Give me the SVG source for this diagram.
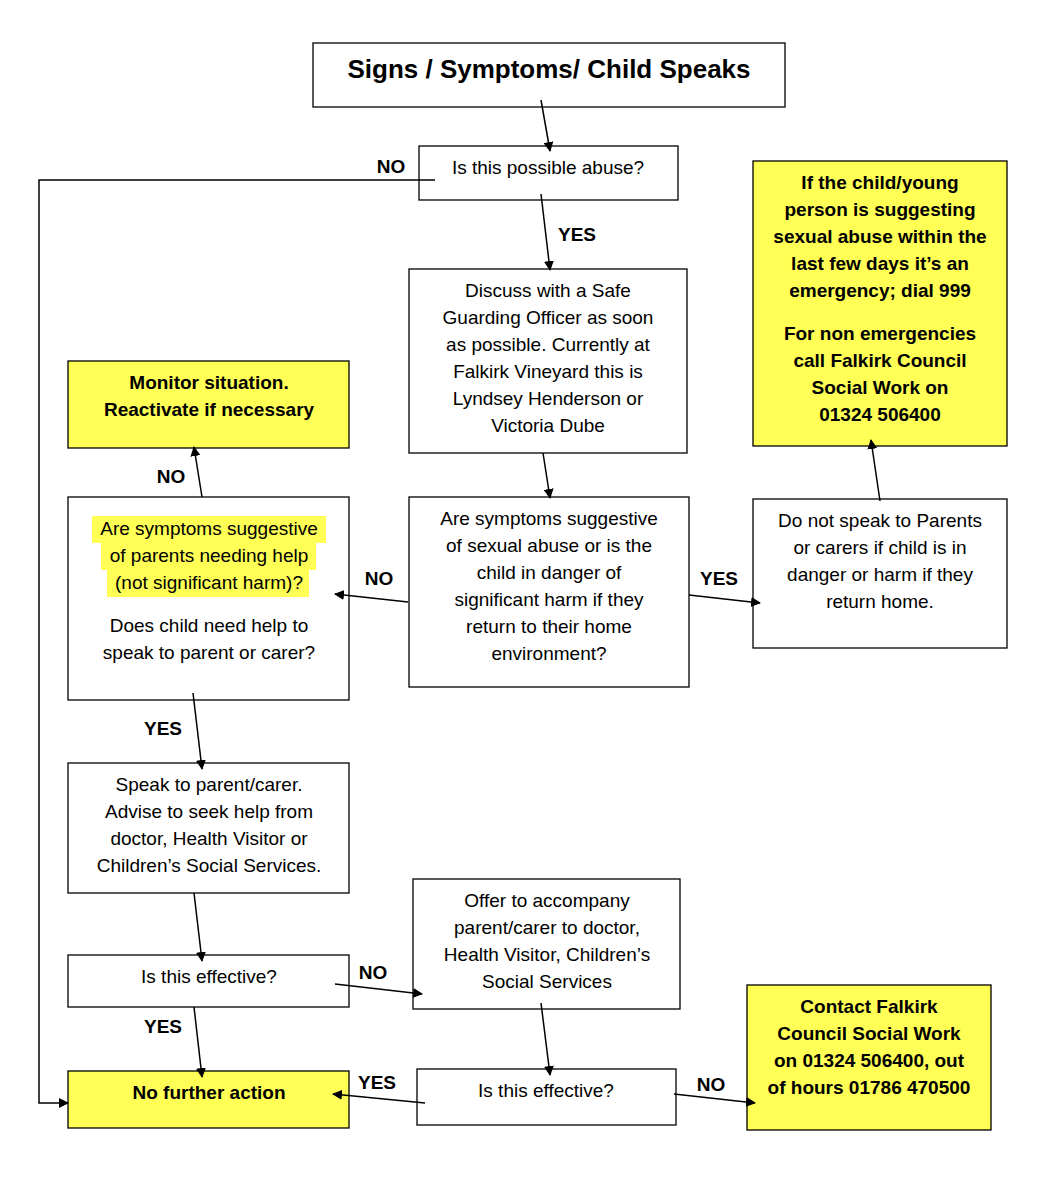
<svg xmlns="http://www.w3.org/2000/svg" width="1052" height="1178" viewBox="0 0 1052 1178">
<style>
.b{fill:#fff;stroke:#000;stroke-width:1.3}
.y{fill:#ffff55;stroke:#000;stroke-width:1.3}
text{font-family:"Liberation Sans",Arial,sans-serif;font-size:19px;text-anchor:middle;fill:#000}
.bd{font-weight:bold}
.c line,.c polyline{stroke:#000;stroke-width:1.5;fill:none;marker-end:url(#a)}
.l{font-weight:bold;font-size:19px}
</style>
<defs><marker id="a" markerWidth="10" markerHeight="10" refX="9" refY="5" orient="auto" markerUnits="userSpaceOnUse"><path d="M0,0 L10,5 L0,10z" fill="#000"/></marker></defs>
<rect width="1052" height="1178" fill="#fff"/>
<g id="title"><rect class="b" x="313" y="43" width="472" height="64"/><text x="549" y="78" class="bd" style="font-size:26px">Signs / Symptoms/ Child Speaks</text></g>
<g id="abuse"><rect class="b" x="419" y="146" width="259" height="54"/><text x="548" y="174">Is this possible abuse?</text></g>
<g id="discuss"><rect class="b" x="409" y="269" width="278" height="184"/>
<text x="548" y="297">Discuss with a Safe</text><text x="548" y="324">Guarding Officer as soon</text><text x="548" y="351">as possible. Currently at</text><text x="548" y="378">Falkirk Vineyard this is</text><text x="548" y="405">Lyndsey Henderson or</text><text x="548" y="432">Victoria Dube</text></g>
<g id="emergency"><rect class="y" x="753" y="161" width="254" height="285"/>
<g class="bd"><text x="880" y="189">If the child/young</text><text x="880" y="216">person is suggesting</text><text x="880" y="243">sexual abuse within the</text><text x="880" y="270">last few days it’s an</text><text x="880" y="297">emergency; dial 999</text>
<text x="880" y="340">For non emergencies</text><text x="880" y="367">call Falkirk Council</text><text x="880" y="394">Social Work on</text><text x="880" y="421">01324 506400</text></g></g>
<g id="monitor"><rect class="y" x="68" y="361" width="281" height="87"/><text x="209" y="389" class="bd">Monitor situation.</text><text x="209" y="416" class="bd">Reactivate if necessary</text></g>
<g id="parents"><rect class="b" x="68" y="497" width="281" height="203"/>
<rect x="92" y="516" width="234" height="27" fill="#ffff55"/><rect x="101" y="543" width="215" height="27" fill="#ffff55"/><rect x="107" y="570" width="202" height="27" fill="#ffff55"/>
<text x="209" y="535">Are symptoms suggestive</text><text x="209" y="562">of parents needing help</text><text x="209" y="589">(not significant harm)?</text>
<text x="209" y="632">Does child need help to</text><text x="209" y="659">speak to parent or carer?</text></g>
<g id="sexual"><rect class="b" x="409" y="497" width="280" height="190"/>
<text x="549" y="525">Are symptoms suggestive</text><text x="549" y="552">of sexual abuse or is the</text><text x="549" y="579">child in danger of</text><text x="549" y="606">significant harm if they</text><text x="549" y="633">return to their home</text><text x="549" y="660">environment?</text></g>
<g id="donot"><rect class="b" x="753" y="499" width="254" height="149"/>
<text x="880" y="527">Do not speak to Parents</text><text x="880" y="554">or carers if child is in</text><text x="880" y="581">danger or harm if they</text><text x="880" y="608">return home.</text></g>
<g id="speak"><rect class="b" x="68" y="763" width="281" height="130"/>
<text x="209" y="791">Speak to parent/carer.</text><text x="209" y="818">Advise to seek help from</text><text x="209" y="845">doctor, Health Visitor or</text><text x="209" y="872">Children’s Social Services.</text></g>
<g id="eff1"><rect class="b" x="68" y="955" width="281" height="52"/><text x="209" y="983">Is this effective?</text></g>
<g id="offer"><rect class="b" x="413" y="879" width="267" height="130"/>
<text x="547" y="907">Offer to accompany</text><text x="547" y="934">parent/carer to doctor,</text><text x="547" y="961">Health Visitor, Children’s</text><text x="547" y="988">Social Services</text></g>
<g id="contact"><rect class="y" x="747" y="985" width="244" height="145"/>
<g class="bd"><text x="869" y="1013">Contact Falkirk</text><text x="869" y="1040">Council Social Work</text><text x="869" y="1067">on 01324 506400, out</text><text x="869" y="1094">of hours 01786 470500</text></g></g>
<g id="nfa"><rect class="y" x="68" y="1071" width="281" height="57"/><text x="209" y="1099" class="bd">No further action</text></g>
<g id="eff2"><rect class="b" x="417" y="1069" width="259" height="56"/><text x="546" y="1097">Is this effective?</text></g>
<g class="c">
<line x1="541" y1="100" x2="550" y2="151"/>
<line x1="541" y1="194" x2="550" y2="270"/>
<polyline points="435,180 39,180 39,1103 68,1103"/>
<line x1="543" y1="453" x2="550" y2="498"/>
<line x1="408" y1="602" x2="335" y2="594"/>
<line x1="689" y1="595" x2="760" y2="603"/>
<line x1="880" y1="501" x2="871" y2="440"/>
<line x1="202" y1="497" x2="194" y2="447"/>
<line x1="193" y1="693" x2="202" y2="769"/>
<line x1="194" y1="893" x2="202" y2="961"/>
<line x1="335" y1="984" x2="422" y2="994"/>
<line x1="194" y1="1007" x2="202" y2="1077"/>
<line x1="541" y1="1003" x2="550" y2="1075"/>
<line x1="425" y1="1103" x2="333" y2="1094"/>
<line x1="674" y1="1094" x2="755" y2="1103"/>
</g>
<g id="labels" class="l">
<text x="391" y="173" class="bd">NO</text><text x="577" y="241" class="bd">YES</text>
<text x="379" y="585" class="bd">NO</text><text x="719" y="585" class="bd">YES</text>
<text x="171" y="483" class="bd">NO</text><text x="163" y="735" class="bd">YES</text>
<text x="373" y="979" class="bd">NO</text><text x="163" y="1033" class="bd">YES</text>
<text x="377" y="1089" class="bd">YES</text><text x="711" y="1091" class="bd">NO</text>
</g>
</svg>
